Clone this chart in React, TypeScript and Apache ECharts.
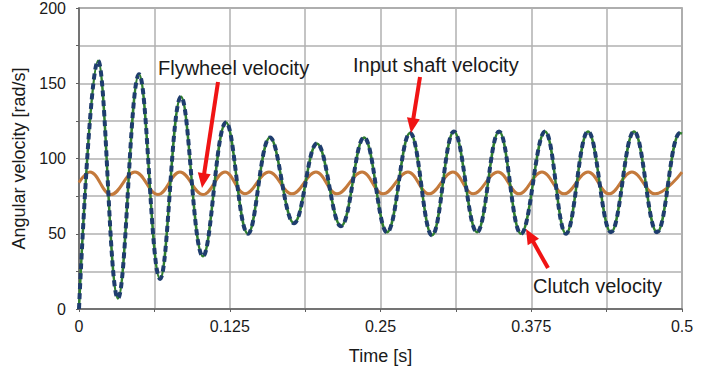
import React, { useEffect, useRef } from "react";
import * as echarts from "echarts";

// Time [s] and values [rad/s] (extrema of each oscillation)
const shaftTime = [
  0, 0.0158, 0.0323, 0.0498, 0.0672, 0.0846, 0.1028, 0.1219, 0.1401, 0.1584,
  0.1783, 0.1973, 0.2172, 0.2363, 0.2554, 0.2745, 0.2927, 0.3109, 0.33, 0.3483,
  0.3665, 0.3864, 0.4038, 0.4221, 0.4411, 0.4602, 0.4793, 0.4983, 0.5,
];
const inputShaftVelocity = [
  0, 165, 7, 156, 20, 141, 35, 124, 50, 114,
  57, 110, 55, 114, 51, 117, 49, 118, 51, 118,
  50, 118, 50, 118, 51, 118, 51, 117, 116.5,
];
const clutchVelocity = [
  0, 165, 7, 156, 20, 141, 35, 124, 50, 114,
  57, 110, 55, 114, 51, 117, 49, 118, 51, 118,
  50, 118, 50, 118, 51, 118, 51, 117, 116.5,
];
const flywheelTime = [
  0, 0.0091, 0.0265, 0.0464, 0.0655, 0.0837, 0.1028, 0.1211, 0.1376, 0.1575,
  0.1766, 0.1965, 0.2139, 0.2347, 0.2521, 0.2728, 0.2902, 0.3101, 0.3267, 0.3474,
  0.3648, 0.3839, 0.4022, 0.4221, 0.4395, 0.4585, 0.4776, 0.5,
];
const flywheelVelocity = [
  84, 91, 76, 91, 76, 91, 76, 91, 76.5, 91,
  76.5, 91, 76.5, 91, 76.5, 91, 76.5, 91, 76.5, 91,
  76.5, 91, 76.5, 91, 76.5, 91, 76.5, 91,
];

const xTickLabels = ["0", "0.125", "0.25", "0.375", "0.5"];
const yTickLabels = ["0", "50", "100", "150", "200"];

const FONT = "'Liberation Sans', Arial, sans-serif";
const RED = "#f01414";

function zip(xs: number[], ys: number[]) {
  return xs.map((x, i) => [x, ys[i]]);
}

function arrow(tail: [number, number], tip: [number, number]) {
  const dx = tip[0] - tail[0];
  const dy = tip[1] - tail[1];
  const len = Math.sqrt(dx * dx + dy * dy);
  const ux = dx / len;
  const uy = dy / len;
  const headLen = 15;
  const half = 6.5;
  const bx = tip[0] - ux * headLen;
  const by = tip[1] - uy * headLen;
  return [
    {
      type: "line",
      shape: { x1: tail[0], y1: tail[1], x2: bx + ux * 2, y2: by + uy * 2 },
      style: { stroke: RED, lineWidth: 4 },
      z: 100,
    },
    {
      type: "polygon",
      shape: {
        points: [
          [tip[0], tip[1]],
          [bx - uy * half, by + ux * half],
          [bx + uy * half, by - ux * half],
        ],
      },
      style: { fill: RED },
      z: 100,
    },
  ];
}

function label(text: string, x: number, y: number) {
  return {
    type: "text",
    x,
    y,
    style: {
      text,
      fill: "#1a1a1a",
      font: `20px ${FONT}`,
      textVerticalAlign: "middle",
      textAlign: "left",
    },
    z: 100,
  };
}

export default function App() {
  const ref = useRef<HTMLDivElement>(null);
  useEffect(() => {
    if (!ref.current) return;
    const chart = echarts.init(ref.current, undefined, { renderer: "svg" });
    const isTick = (v: number, step: number) =>
      Math.abs(v / step - Math.round(v / step)) < 1e-6;
    chart.setOption({
      animation: false,
      backgroundColor: "#ffffff",
      grid: {
        left: 79,
        top: 6,
        right: 26,
        bottom: 60,
        show: true,
        borderColor: "#8a8a8a",
        borderWidth: 1.5,
      },
      xAxis: {
        type: "value",
        min: 0,
        max: 0.5,
        interval: 0.0625,
        name: "Time [s]",
        nameLocation: "middle",
        nameGap: 38,
        nameTextStyle: { fontFamily: FONT, fontSize: 18, color: "#1a1a1a" },
        axisLine: { show: true, lineStyle: { color: "#606060", width: 1.5 } },
        axisTick: { show: true, length: 3, lineStyle: { color: "#606060" } },
        splitLine: { show: true, lineStyle: { color: "#b0b0b0", width: 1.5 } },
        axisLabel: {
          margin: 9,
          fontFamily: FONT,
          fontSize: 16,
          color: "#1a1a1a",
          formatter: (v: number) =>
            isTick(v, 0.125) ? xTickLabels[Math.round(v / 0.125)] : "",
        },
      },
      yAxis: {
        type: "value",
        min: 0,
        max: 200,
        interval: 25,
        name: "Angular velocity [rad/s]",
        nameLocation: "middle",
        nameGap: 39,
        nameTextStyle: { fontFamily: FONT, fontSize: 18, color: "#1a1a1a" },
        axisLine: { show: true, lineStyle: { color: "#606060", width: 1.5 } },
        axisTick: { show: true, length: 3, lineStyle: { color: "#606060" } },
        splitLine: { show: true, lineStyle: { color: "#b0b0b0", width: 1.5 } },
        axisLabel: {
          margin: 13,
          fontFamily: FONT,
          fontSize: 16,
          color: "#1a1a1a",
          formatter: (v: number) =>
            isTick(v, 50) ? yTickLabels[Math.round(v / 50)] : "",
        },
      },
      series: [
        {
          name: "Flywheel velocity",
          type: "line",
          data: zip(flywheelTime, flywheelVelocity),
          smooth: 0.4,
          showSymbol: false,
          lineStyle: { color: "#c47a3c", width: 3 },
          z: 2,
        },
        {
          name: "Input shaft velocity",
          type: "line",
          data: zip(shaftTime, inputShaftVelocity),
          smooth: 0.4,
          showSymbol: false,
          lineStyle: { color: "#2f7f2f", width: 2.5 },
          z: 3,
        },
        {
          name: "Clutch velocity",
          type: "line",
          data: zip(shaftTime, clutchVelocity),
          smooth: 0.4,
          showSymbol: false,
          lineStyle: { color: "#1f3d6e", width: 4, type: [6, 4] },
          z: 4,
        },
      ],
      graphic: [
        label("Flywheel velocity", 158, 68),
        label("Input shaft velocity", 353, 65),
        label("Clutch velocity", 533, 286),
        ...arrow([218, 82], [202, 188]),
        ...arrow([420, 77], [411, 133]),
        ...arrow([548, 268], [526, 229]),
      ],
    });
    return () => chart.dispose();
  }, []);
  return (
    <div
      ref={ref}
      style={{ position: "fixed", left: 0, top: 0, width: 708, height: 370 }}
    />
  );
}
